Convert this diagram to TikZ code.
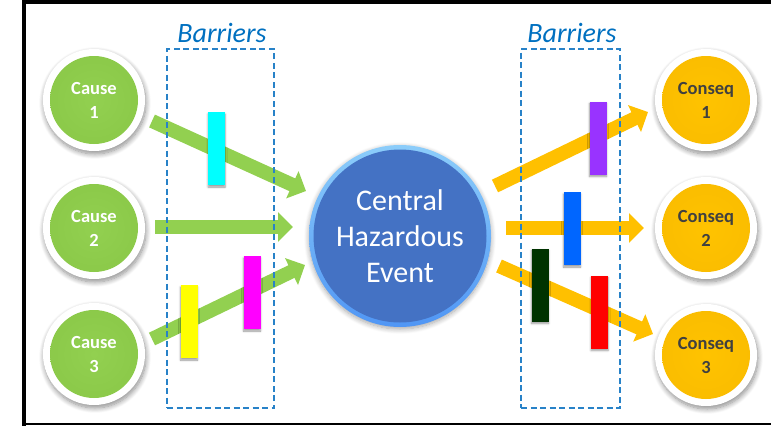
\documentclass[tikz,border=0pt]{standalone}
\usepackage{fontspec}
\setmainfont{Carlito}
\usetikzlibrary{arrows.meta,shadows.blur}

\definecolor{causeLight}{RGB}{146,208,80}
\definecolor{causeMid}{RGB}{136,198,70}
\definecolor{causeDark}{RGB}{96,150,40}
\definecolor{conLight}{RGB}{255,195,0}
\definecolor{conMid}{RGB}{248,186,0}
\definecolor{conDark}{RGB}{205,145,0}
\definecolor{arrowGreen}{RGB}{146,208,80}
\definecolor{arrowOrange}{RGB}{255,192,0}
\definecolor{coreBlue}{RGB}{68,114,196}
\definecolor{ringTop}{RGB}{140,205,250}
\definecolor{ringBottom}{RGB}{80,150,245}
\definecolor{boxBlue}{RGB}{40,130,200}
\definecolor{labelBlue}{RGB}{0,112,192}
\definecolor{conText}{RGB}{64,64,64}
\definecolor{barCyan}{RGB}{0,255,255}
\definecolor{barYellow}{RGB}{255,255,0}
\definecolor{barMagenta}{RGB}{255,0,255}
\definecolor{barPurple}{RGB}{153,51,255}
\definecolor{barBlue}{RGB}{0,102,255}
\definecolor{barDarkGreen}{RGB}{0,51,0}
\definecolor{barRed}{RGB}{255,0,0}

\pgfdeclareradialshading{greenball}{\pgfpoint{0bp}{0bp}}{%
  color(0bp)=(causeLight); color(38bp)=(causeMid); color(46bp)=(causeDark); color(50bp)=(causeDark)}
\pgfdeclareradialshading{goldball}{\pgfpoint{0bp}{0bp}}{%
  color(0bp)=(conLight); color(38bp)=(conMid); color(46bp)=(conDark); color(50bp)=(conDark)}

\tikzset{
  ballring/.style={circle, minimum size=102pt, inner sep=0pt, fill=white,
    blur shadow={shadow xshift=1pt, shadow yshift=-3pt, shadow blur radius=5pt,
      shadow blur steps=10, shadow opacity=45}},
  causetext/.style={align=center, text=white, inner sep=0pt,
    font=\fontsize{18.5}{24}\selectfont\bfseries},
  context/.style={align=center, text=conText, inner sep=0pt,
    font=\fontsize{18.5}{24}\selectfont\bfseries},
  centraltext/.style={align=center, text=white, inner sep=0pt,
    font=\fontsize{30}{36}\selectfont},
  greenflow/.style={draw=arrowGreen, line width=14pt,
    -{Triangle[length=15pt,width=29pt]}},
  orangeflow/.style={draw=arrowOrange, line width=14pt,
    -{Triangle[length=15pt,width=29pt]}},
  barrierbox/.style={draw=boxBlue, line width=1.4pt, dash pattern=on 6pt off 3.5pt,
    rectangle, inner sep=0pt},
  barrierlabel/.style={text=labelBlue, anchor=base, inner sep=0pt,
    font=\fontsize{28}{32}\selectfont\itshape},
  barrierbar/.style={rectangle, minimum width=17pt, minimum height=73pt,
    inner sep=0pt, draw=none,
    blur shadow={shadow xshift=0pt, shadow yshift=-2pt, shadow blur radius=2pt,
      shadow blur steps=5, shadow opacity=40}},
}

\begin{document}
\begin{tikzpicture}[x=1pt,y=-1pt]
\useasboundingbox (0,0) rectangle (771,426);

% frame
\fill[black] (22,0) rectangle (26,426);
\fill[black] (22,0) rectangle (771,3.5);
\fill[black] (22,422.8) rectangle (771,424.8);

% causes
\foreach \n/\y in {1/100,2/228,3/354}{
  \node[ballring] (c\n) at (94,\y) {};
  \shade[shading=greenball] (c\n.center) circle (44);
  \node[causetext] (c\n t) at (c\n) {Cause\\\n};
}

% consequences
\foreach \n/\y in {1/100,2/228,3/355}{
  \node[ballring] (q\n) at (706,\y) {};
  \shade[shading=goldball] (q\n.center) circle (44);
  \node[context] (q\n t) at (q\n) {Conseq\\\n};
}

% central event
\node[circle, minimum size=182pt, inner sep=0pt, top color=ringTop, bottom color=ringBottom,
  blur shadow={shadow xshift=0pt, shadow yshift=-2pt, shadow blur radius=5pt,
    shadow blur steps=8, shadow opacity=35}] (ce) at (400,236) {};
\fill[coreBlue] (ce.center) circle (86.5);
\node[centraltext] (cet) at (ce) {Central\\Hazardous\\Event};

% arrow end points
\coordinate (a1s) at (152,121); \coordinate (a1e) at (306,191);
\coordinate (a2s) at (155,227); \coordinate (a2e) at (293,227);
\coordinate (a3s) at (152,339); \coordinate (a3e) at (305,265);
\coordinate (r1s) at (495,186); \coordinate (r1e) at (648,112);
\coordinate (r2s) at (506,228); \coordinate (r2e) at (644,228);
\coordinate (r3s) at (499,266); \coordinate (r3e) at (653,334);

\draw[greenflow] (a1s) -- (a1e);
\draw[greenflow] (a2s) -- (a2e);
\draw[greenflow] (a3s) -- (a3e);
\draw[orangeflow] (r1s) -- (r1e);
\draw[orangeflow] (r2s) -- (r2e);
\draw[orangeflow] (r3s) -- (r3e);

% barrier zones
\node[barrierbox, minimum width=107pt, minimum height=359pt] (bl) at (220.5,228.5) {};
\node[barrierbox, minimum width=99pt, minimum height=359pt] (br) at (570.5,228.5) {};
\node[barrierlabel] (bll) at (222,42) {Barriers};
\node[barrierlabel] (brl) at (572,42) {Barriers};

% barriers
\node[barrierbar, fill=barCyan] (b1) at (216.5,148.5) {};
\node[barrierbar, fill=barYellow] (b2) at (189,321.5) {};
\node[barrierbar, fill=barMagenta] (b3) at (252,292.5) {};
\node[barrierbar, fill=barPurple] (b4) at (598,138) {};
\node[barrierbar, fill=barBlue] (b5) at (572,228.5) {};
\node[barrierbar, fill=barDarkGreen] (b6) at (540,285) {};
\node[barrierbar, fill=barRed] (b7) at (599.5,312) {};
\end{tikzpicture}
\end{document}
